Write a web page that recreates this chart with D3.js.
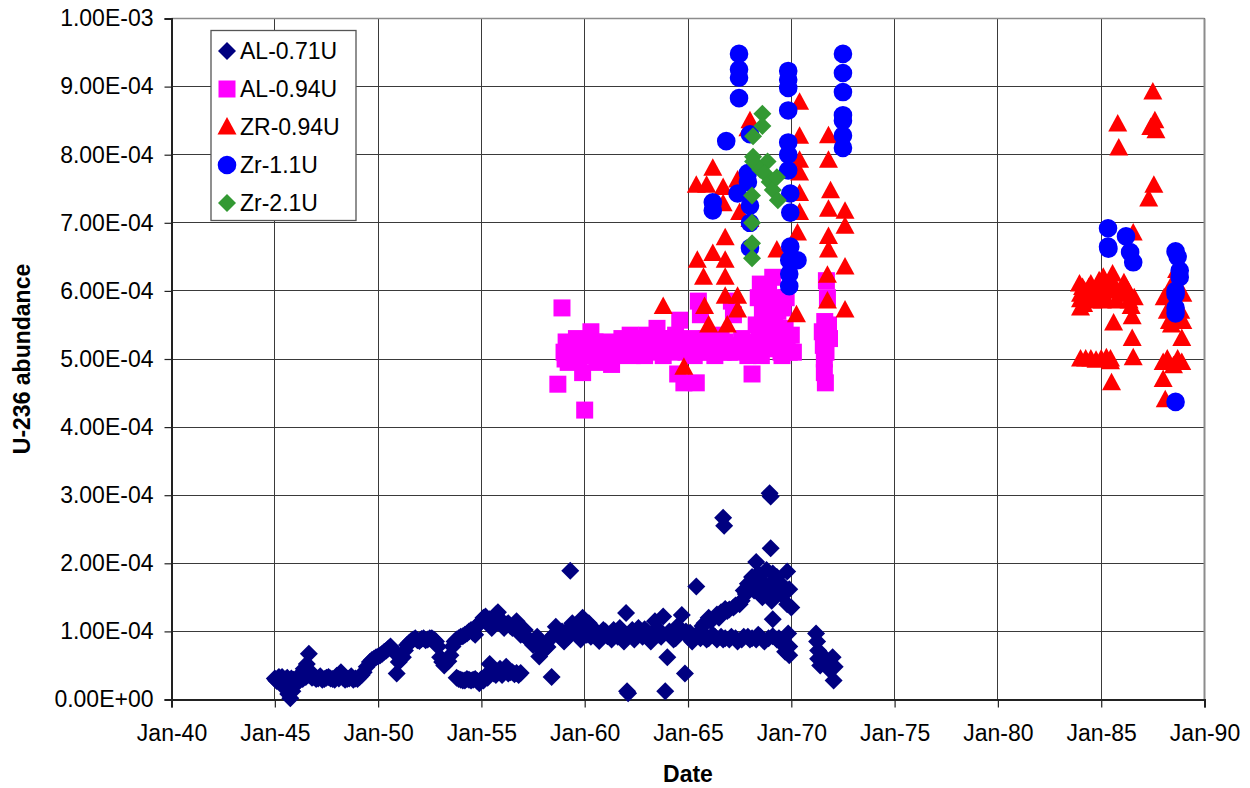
<!DOCTYPE html>
<html>
<head>
<meta charset="utf-8">
<script src="https://cdn.jsdelivr.net/npm/d3@7/dist/d3.min.js"></script>
<style>
  html, body { margin: 0; padding: 0; background: #fff; }
  svg { display: block; font-family: "Liberation Sans", Arial, sans-serif; }
</style>
</head>
<body>
<svg id="chart" width="1250" height="788"></svg>
<script>
// Each record: [decimal year, U-236 abundance in units of 1e-4]
const al071 = [
  // 1945-1949
  [1945.0,0.31],[1945.05,0.29],[1945.1,0.27],[1945.15,0.31],[1945.2,0.33],[1945.25,0.28],[1945.3,0.24],
  [1945.35,0.33],[1945.4,0.30],[1945.45,0.27],[1945.5,0.16],[1945.55,0.30],[1945.6,0.32],[1945.65,0.08],
  [1945.7,0.28],[1945.75,0.02],[1945.8,0.31],[1945.85,0.12],[1945.9,0.29],[1946.0,0.22],[1946.05,0.30],
  [1946.1,0.33],[1946.15,0.28],[1946.2,0.28],[1946.25,0.32],[1946.3,0.36],[1946.35,0.30],[1946.4,0.45],
  [1946.5,0.33],[1946.55,0.52],[1946.6,0.36],[1946.65,0.67],[1946.75,0.40],[1946.8,0.32],[1946.9,0.33],
  [1947.0,0.30],[1947.1,0.31],[1947.2,0.34],[1947.3,0.29],[1947.4,0.30],[1947.5,0.32],[1947.6,0.33],
  [1947.7,0.31],[1947.8,0.30],[1947.9,0.29],[1948.0,0.35],[1948.1,0.31],[1948.2,0.40],[1948.3,0.32],
  [1948.4,0.29],[1948.5,0.30],[1948.6,0.31],[1948.7,0.34],[1948.8,0.29],[1948.9,0.31],[1949.0,0.30],
  [1949.1,0.33],[1949.2,0.36],[1949.3,0.40],[1949.45,0.48],
  // 1949-1953
  [1949.6,0.55],[1949.7,0.58],[1949.8,0.60],[1949.9,0.62],[1950.0,0.63],[1950.1,0.65],[1950.2,0.67],
  [1950.3,0.70],[1950.4,0.72],[1950.5,0.75],[1950.6,0.78],[1950.7,0.72],[1950.8,0.70],[1950.9,0.38],
  [1951.0,0.55],[1951.1,0.60],[1951.2,0.62],[1951.3,0.72],[1951.4,0.80],[1951.5,0.83],[1951.6,0.86],
  [1951.7,0.88],[1951.8,0.90],[1951.9,0.87],[1952.0,0.86],[1952.1,0.89],[1952.2,0.90],[1952.3,0.87],
  [1952.4,0.88],[1952.5,0.90],[1952.6,0.90],[1952.7,0.88],[1952.8,0.85],[1952.9,0.78],[1953.0,0.62],
  [1953.1,0.55],[1953.2,0.50],[1953.4,0.56],[1953.5,0.65],
  // 1953-1958 upper band
  [1953.6,0.78],[1953.7,0.85],[1953.8,0.88],[1953.9,0.90],[1954.0,0.92],[1954.1,0.93],[1954.2,0.95],
  [1954.3,0.97],[1954.4,1.00],[1954.5,1.02],[1954.6,0.98],[1954.7,0.95],[1954.8,1.08],[1954.9,1.12],
  [1955.0,1.15],[1955.1,1.20],[1955.2,1.22],[1955.3,1.15],[1955.4,1.18],[1955.5,1.05],[1955.6,1.20],
  [1955.7,1.25],[1955.8,1.28],[1955.9,1.18],[1956.0,1.15],[1956.1,1.05],[1956.2,1.10],[1956.3,1.12],
  [1956.4,1.08],[1956.5,1.05],[1956.6,1.10],[1956.7,1.15],[1956.8,1.00],[1956.9,0.95],[1957.0,0.96],
  [1957.1,1.02],[1957.2,0.90],[1957.3,0.88],[1957.4,0.85],[1957.5,0.80],[1957.6,0.82],[1957.7,0.92],
  [1957.8,0.63],[1957.9,0.75],[1958.0,0.72],[1958.1,0.80],[1958.2,0.77],[1958.3,0.88],[1958.4,0.33],
  [1958.5,0.95],
  // 1953-1957 lower band
  [1953.8,0.32],[1953.9,0.30],[1954.0,0.29],[1954.1,0.28],[1954.2,0.28],[1954.3,0.30],[1954.4,0.29],
  [1954.5,0.28],[1954.6,0.29],[1954.7,0.30],[1954.8,0.27],[1954.9,0.24],[1955.0,0.30],[1955.1,0.28],
  [1955.2,0.35],[1955.3,0.32],[1955.4,0.52],[1955.5,0.42],[1955.6,0.38],[1955.7,0.36],[1955.8,0.40],
  [1955.9,0.45],[1956.0,0.36],[1956.1,0.40],[1956.2,0.48],[1956.3,0.38],[1956.4,0.40],[1956.5,0.40],
  [1956.6,0.37],[1956.7,0.39],[1956.8,0.36],[1956.9,0.39],
  // 1958-1965
  [1958.6,1.07],[1958.7,0.98],[1958.8,0.92],[1958.9,1.00],[1959.0,0.85],[1959.1,1.00],[1959.2,0.92],
  [1959.3,1.89],[1959.4,1.12],[1959.5,1.00],[1959.6,0.95],[1959.7,1.05],[1959.8,0.88],[1959.9,1.20],
  [1960.0,1.02],[1960.1,0.95],[1960.2,1.12],[1960.3,0.92],[1960.4,1.05],[1960.5,0.98],[1960.6,0.92],
  [1960.7,0.86],[1960.8,0.97],[1960.9,1.02],[1961.0,1.00],[1961.1,0.93],[1961.2,0.95],[1961.3,0.88],
  [1961.4,1.02],[1961.5,0.97],[1961.6,0.92],[1961.7,1.05],[1961.8,0.98],[1961.9,0.85],[1962.0,1.27],
  [1962.05,0.12],[1962.1,0.09],[1962.2,0.95],[1962.3,1.02],[1962.4,0.88],[1962.5,0.94],[1962.6,1.05],
  [1962.7,0.98],[1962.8,0.92],[1962.9,1.03],[1963.0,1.00],[1963.1,0.94],[1963.2,0.85],[1963.3,0.98],
  [1963.4,1.15],[1963.5,1.05],[1963.6,0.95],[1963.7,0.92],[1963.8,1.22],[1963.9,0.12],[1964.0,0.62],
  [1964.1,1.00],[1964.2,0.95],[1964.3,0.88],[1964.4,0.90],[1964.5,1.08],[1964.6,0.97],[1964.7,1.24],
  [1964.85,0.38],[1964.9,1.00],[1965.0,0.92],[1965.1,0.98],[1965.2,0.85],[1965.3,0.92],[1965.4,1.66],
  [1965.5,0.98],[1965.6,0.90],[1965.7,1.08],
  // 1965-1970 lower band
  [1965.8,0.95],[1965.9,0.88],[1966.0,0.90],[1966.2,0.95],[1966.3,0.92],[1966.4,0.88],[1966.6,0.92],
  [1966.7,0.88],[1966.8,0.90],[1967.0,0.88],[1967.1,0.92],[1967.3,0.90],[1967.4,0.85],[1967.6,0.88],
  [1967.7,0.92],[1967.9,0.92],[1968.0,0.88],[1968.1,0.90],[1968.3,0.88],[1968.4,0.95],[1968.5,0.92],
  [1968.7,0.85],[1968.9,0.90],[1969.1,0.93],[1969.3,0.88],[1969.4,0.90],
  // 1965-1970 upper branch
  [1965.8,1.12],[1966.0,1.20],[1966.1,1.15],[1966.4,1.25],[1966.5,1.20],[1966.6,1.28],[1966.7,2.67],
  [1966.75,2.55],[1966.8,1.33],[1966.9,1.30],[1967.0,1.32],[1967.2,1.35],[1967.3,1.38],[1967.5,1.40],
  [1967.6,1.45],[1967.7,1.60],[1967.8,1.55],[1967.9,1.70],[1968.0,1.65],[1968.1,1.80],[1968.15,1.72],
  [1968.2,1.60],[1968.3,2.02],[1968.4,1.85],[1968.5,1.75],[1968.6,1.50],[1968.65,1.65],[1968.7,1.70],
  [1968.8,1.90],[1968.9,1.65],[1968.95,3.03],[1969.0,2.98],[1969.0,2.22],[1969.05,1.45],[1969.1,1.18],
  [1969.1,1.85],[1969.2,1.75],[1969.3,1.60],[1969.3,1.80],[1969.5,1.55],[1969.5,1.70],[1969.6,0.80],
  [1969.7,0.70],[1969.8,1.88],[1969.8,1.40],[1969.9,1.62],[1969.85,0.97],[1969.9,0.65],[1970.0,1.35],
  [1969.9,0.78],
  // 1971-1972
  [1971.2,0.97],[1971.25,0.85],[1971.3,0.72],[1971.3,0.60],[1971.4,0.50],[1971.6,0.62],[1971.8,0.45],
  [1972.0,0.62],[1972.1,0.48],[1972.05,0.28]
];

const al094 = [
  [1958.7,4.63],[1958.9,5.75],[1959.0,5.1],[1959.05,5.0],[1959.1,5.25],[1959.2,4.95],[1959.3,5.2],
  [1959.4,5.15],[1959.5,5.1],[1959.6,5.3],[1959.7,5.0],[1959.8,5.2],[1959.9,4.8],[1960.0,4.25],
  [1960.1,5.2],[1960.2,5.05],[1960.3,5.4],[1960.4,5.1],[1960.5,5.25],[1960.6,4.95],[1960.7,5.2],
  [1960.8,5.05],[1960.9,5.15],[1961.0,5.1],[1961.1,5.25],[1961.2,5.15],[1961.3,4.92],[1961.4,5.2],
  [1961.5,5.05],[1961.6,5.15],[1961.7,5.2],[1961.8,5.3],[1961.9,5.1],[1962.0,5.2],[1962.1,5.15],
  [1962.2,5.35],[1962.3,5.05],[1962.4,5.15],[1962.5,5.2],[1962.6,5.3],[1962.7,5.1],[1962.8,5.2],
  [1962.9,5.05],[1963.0,5.35],[1963.1,5.15],[1963.2,5.25],[1963.3,5.2],[1963.4,5.1],[1963.5,5.45],
  [1963.6,5.3],[1963.7,5.2],[1963.8,5.05],[1963.9,5.3],[1964.0,5.2],[1964.1,5.15],[1964.2,5.1],
  [1964.3,5.25],[1964.4,5.35],[1964.5,4.78],[1964.6,5.57],[1964.7,5.2],[1964.8,4.65],[1964.9,5.1],
  [1965.0,5.15],[1965.1,5.2],[1965.2,5.3],[1965.3,5.05],[1965.4,4.65],[1965.5,5.85],[1965.6,5.65],
  [1965.7,5.1],[1965.8,5.2],[1965.9,5.3],[1966.0,5.1],[1966.1,5.2],[1966.2,5.3],[1966.3,5.05],
  [1966.4,5.15],[1966.5,5.2],[1966.6,5.35],[1966.7,5.1],[1966.8,5.25],[1966.9,5.15],[1967.0,5.1],
  [1967.1,5.85],[1967.2,5.65],[1967.3,5.1],[1967.4,5.2],[1967.5,5.15],[1967.6,5.3],[1967.7,5.2],
  [1967.8,5.15],[1967.9,5.05],[1968.0,5.25],[1968.1,4.78],[1968.2,5.1],[1968.3,5.5],[1968.4,5.9],
  [1968.45,5.3],[1968.5,6.1],[1968.55,5.05],[1968.6,5.7],[1968.7,5.4],[1968.75,5.7],[1968.8,5.2],
  [1968.85,5.55],[1968.9,6.0],[1969.0,5.8],[1969.05,5.15],[1969.1,6.2],[1969.15,5.4],[1969.2,5.6],
  [1969.3,5.3],[1969.35,5.7],[1969.4,5.9],[1969.45,5.25],[1969.5,5.1],[1969.55,5.05],[1969.6,5.75],
  [1969.7,5.45],[1969.75,5.9],[1969.8,5.2],[1969.9,5.1],[1970.0,5.35],[1970.1,5.1],
  [1971.5,5.4],[1971.55,5.2],[1971.6,5.0],[1971.6,4.8],[1971.62,5.55],[1971.65,4.65],[1971.68,5.1],
  [1971.7,6.15],[1971.75,5.9],[1971.8,5.5],[1971.85,5.3]
];

const zr094 = [
  [1963.8,5.77],[1964.8,4.88],[1965.4,7.55],[1965.9,7.55],[1966.2,7.8],[1966.7,7.52],[1965.45,6.45],
  [1965.75,6.2],[1966.2,6.55],[1966.8,6.78],[1966.8,6.45],[1966.8,6.2],[1965.8,5.77],[1966.0,5.5],
  [1966.8,5.92],[1966.9,5.5],[1967.4,5.92],[1967.4,5.72],[1966.7,7.28],[1967.5,7.15],[1967.4,7.63],
  [1967.9,8.38],[1968.0,8.5],[1968.0,7.05],[1969.3,6.6],[1970.4,8.77],[1970.4,8.27],[1970.4,7.92],
  [1970.4,7.73],[1970.4,7.43],[1970.4,7.15],[1970.3,6.85],[1970.25,5.65],[1971.8,8.28],[1971.8,7.92],
  [1971.9,7.47],[1971.8,7.2],[1971.8,6.8],[1971.8,6.6],[1971.75,6.23],[1971.75,5.85],[1972.6,7.17],
  [1972.6,6.95],[1972.6,6.35],[1972.6,5.72],
  [1983.95,6.1],[1984.0,5.95],[1984.0,5.87],[1984.0,5.75],[1984.0,5.0],[1984.1,6.05],[1984.15,5.8],
  [1984.2,6.0],[1984.25,5.0],[1984.3,5.9],[1984.4,6.05],[1984.5,6.1],[1984.5,5.0],[1984.6,5.85],
  [1984.7,6.0],[1984.75,4.98],[1984.8,5.95],[1984.9,6.15],[1985.0,6.05],[1985.0,5.0],[1985.05,5.85],
  [1985.1,6.2],[1985.2,5.9],[1985.25,5.02],[1985.3,6.0],[1985.4,6.1],[1985.45,5.0],[1985.45,4.96],
  [1985.5,4.65],[1985.55,6.25],[1985.6,5.53],[1985.6,6.1],[1985.7,6.0],[1985.75,5.85],[1985.8,8.45],
  [1985.85,8.1],[1985.9,5.95],[1986.0,5.95],[1986.1,6.12],[1986.2,6.05],[1986.3,6.0],[1986.35,5.85],
  [1986.45,5.77],[1986.5,5.62],[1986.5,5.3],[1986.55,5.02],[1986.55,6.85],[1986.6,5.9],[1987.3,7.35],
  [1987.4,8.4],[1987.5,8.92],[1987.55,7.55],[1987.6,8.5],[1987.65,8.35],[1988.0,4.95],[1988.0,4.7],
  [1988.05,5.9],[1988.1,4.4],[1988.2,5.7],[1988.2,5.0],[1988.3,5.55],[1988.35,6.05],[1988.4,5.5],
  [1988.5,5.85],[1988.5,4.9],[1988.6,5.75],[1988.65,6.3],[1988.7,5.0],[1988.75,5.6],[1988.85,5.7],
  [1988.9,5.3],[1988.9,4.95],[1988.95,5.95],[1988.95,5.55]
];

const zr11 = [
  [1967.47,9.48],[1967.47,9.25],[1967.47,9.13],[1967.47,8.83],[1966.85,8.2],[1968.0,8.3],[1966.2,7.3],
  [1966.2,7.18],[1967.4,7.43],[1967.9,7.73],[1967.9,7.6],[1968.0,7.25],[1968.0,7.0],[1968.0,6.63],
  [1969.85,9.23],[1969.85,9.1],[1969.85,8.98],[1969.85,8.65],[1969.85,8.18],[1969.85,8.0],
  [1969.85,7.77],[1969.95,7.43],[1969.95,7.15],[1969.95,6.65],[1970.3,6.45],[1969.9,6.45],
  [1969.9,6.25],[1969.9,6.07],[1972.5,9.48],[1972.5,9.2],[1972.5,8.92],[1972.5,8.58],[1972.5,8.5],
  [1972.5,8.28],[1972.5,8.1],
  [1985.33,6.92],[1985.33,6.65],[1985.35,6.62],[1986.2,6.8],[1986.4,6.57],[1986.55,6.42],[1988.6,6.58],
  [1988.7,6.5],[1988.8,6.3],[1988.8,6.2],[1988.6,6.0],[1988.6,5.95],[1988.6,5.75],[1988.6,5.67],
  [1988.6,4.37]
];

const zr21 = [
  [1968.6,8.6],[1968.6,8.42],[1968.15,8.27],[1968.15,7.97],[1968.15,7.9],[1968.85,7.9],[1968.5,7.78],
  [1968.7,7.73],[1968.95,7.6],[1969.1,7.48],[1969.35,7.33],[1968.1,7.4],[1968.1,7.0],[1968.1,6.7],
  [1968.1,6.48],[1969.3,7.67]
];

const seriesNames = ["AL-0.71U", "AL-0.94U", "ZR-0.94U", "Zr-1.1U", "Zr-2.1U"];
const seriesData = [al071, al094, zr094, zr11, zr21];
const seriesColors = ["#000080", "#FF00FF", "#FF0000", "#0000FF", "#339933"];
const seriesShapes = ["diamond", "square", "triangle", "circle", "diamond"];

const yTicks = d3.range(0, 11).map(i => i * 1e-4);
const xTickYears = d3.range(1940, 1991, 5);
const VALUE_UNIT = 1e-4;

// Plot frame
const plotLeft = 171.5, plotRight = 1204.5, plotTop = 18.5, plotBottom = 699.5;
const FONT_SIZE = 23;

function yearToDate(yv) {
  const yr = Math.floor(yv);
  const a = new Date(yr, 0, 1), b = new Date(yr + 1, 0, 1);
  return new Date(+a + (yv - yr) * (b - a));
}

function sciLabel(v) {
  if (v === 0) return "0.00E+00";
  const e = Math.floor(Math.log10(v) + 1e-9);
  const m = v / Math.pow(10, e);
  const sign = e < 0 ? "-" : "+";
  return m.toFixed(2) + "E" + sign + String(Math.abs(e)).padStart(2, "0");
}

const svg = d3.select("#chart");
const x = d3.scaleTime()
  .domain([new Date(1940, 0, 1), new Date(1990, 0, 1)])
  .range([plotLeft, plotRight]);
const y = d3.scaleLinear().domain([0, 1e-3]).range([plotBottom, plotTop]);

// Grid
const grid = svg.append("g").attr("stroke", "#3a3a3a").attr("stroke-width", 1).attr("shape-rendering", "crispEdges");
grid.selectAll("line.h").data(yTicks.slice(1)).enter().append("line")
  .attr("x1", plotLeft).attr("x2", plotRight).attr("y1", d => y(d)).attr("y2", d => y(d));
grid.selectAll("line.v").data(xTickYears.slice(1, -1)).enter().append("line")
  .attr("y1", plotTop).attr("y2", plotBottom)
  .attr("x1", d => x(new Date(d, 0, 1))).attr("x2", d => x(new Date(d, 0, 1)));

// Frame (top and right in gray)
svg.append("line").attr("x1", plotLeft).attr("x2", plotRight).attr("y1", plotTop).attr("y2", plotTop)
  .attr("stroke", "#8c8c8c").attr("stroke-width", 1.5);
svg.append("line").attr("x1", plotRight).attr("x2", plotRight).attr("y1", plotTop).attr("y2", plotBottom)
  .attr("stroke", "#8c8c8c").attr("stroke-width", 2);

// Axes
const yAxis = d3.axisLeft(y).tickValues(yTicks).tickSize(7).tickPadding(11).tickFormat(sciLabel);
const gy = svg.append("g").attr("transform", `translate(${plotLeft},0)`).call(yAxis);
const xAxis = d3.axisBottom(x).tickValues(xTickYears.map(d => new Date(d, 0, 1)))
  .tickSize(8).tickPadding(17).tickFormat(d3.timeFormat("%b-%y"));
const gx = svg.append("g").attr("transform", `translate(0,${plotBottom})`).call(xAxis);

[gx, gy].forEach(g => {
  g.select(".domain").attr("stroke", "#222").attr("stroke-width", 2);
  g.selectAll(".tick line").attr("stroke", "#222").attr("stroke-width", 1.2);
  g.selectAll(".tick text").attr("font-size", FONT_SIZE).attr("fill", "#000")
    .attr("font-family", "'Liberation Sans', Arial, sans-serif");
});

// Axis titles
svg.append("text").attr("x", (plotLeft + plotRight) / 2).attr("y", 782)
  .attr("text-anchor", "middle").attr("font-size", FONT_SIZE).attr("font-weight", "bold").text("Date");
svg.append("text").attr("transform", `translate(30,${(plotTop + plotBottom) / 2}) rotate(-90)`)
  .attr("text-anchor", "middle").attr("font-size", FONT_SIZE).attr("font-weight", "bold").text("U-236 abundance");

// Marker shapes
function markerPath(shape) {
  switch (shape) {
    case "diamond": return "M0,-9L9,0L0,9L-9,0Z";
    case "square": return "M-8.5,-8.5H8.5V8.5H-8.5Z";
    case "triangle": return "M0,-10L9.5,7.5H-9.5Z";
    case "circle": return d3.symbol(d3.symbolCircle, Math.PI * 9.3 * 9.3)();
  }
}

const marks = svg.append("g");
seriesData.forEach((data, i) => {
  marks.append("g").selectAll("path").data(data).enter().append("path")
    .attr("d", markerPath(seriesShapes[i]))
    .attr("fill", seriesColors[i])
    .attr("transform", d => `translate(${x(yearToDate(d[0]))},${y(d[1] * VALUE_UNIT)})`);
});

// Legend
const legend = svg.append("g");
legend.append("rect").attr("x", 211).attr("y", 30.5).attr("width", 145).attr("height", 190)
  .attr("fill", "#fff").attr("stroke", "#555").attr("stroke-width", 1.3);
seriesNames.forEach((name, i) => {
  const cy = 51 + i * 38;
  legend.append("path").attr("d", markerPath(seriesShapes[i])).attr("fill", seriesColors[i])
    .attr("transform", `translate(227,${cy})`);
  legend.append("text").attr("x", 240).attr("y", cy).attr("dy", "0.36em")
    .attr("font-size", FONT_SIZE).text(name);
});
</script>
</body>
</html>
